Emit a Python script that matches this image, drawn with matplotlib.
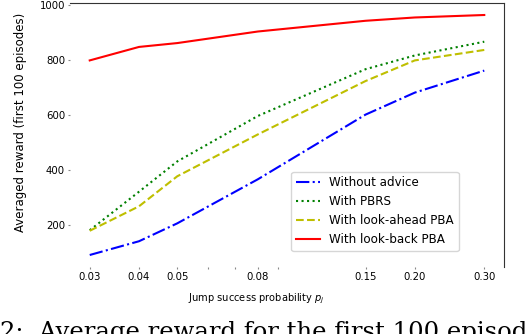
import matplotlib
matplotlib.use('Agg')
import matplotlib.pyplot as plt

# jump success probabilities (x) and averaged rewards over first 100 episodes
probs = [0.03, 0.04, 0.05, 0.08, 0.15, 0.20, 0.30]
prob_labels = ['0.03', '0.04', '0.05', '0.08', '0.15', '0.20', '0.30']

no_advice = [90, 140, 205, 365, 600, 680, 760]
pbrs = [180, 320, 430, 595, 765, 815, 865]
look_ahead = [178, 267, 376, 528, 722, 797, 835]
look_back = [797, 846, 860, 902, 941, 953, 962]

fig = plt.figure(figsize=(5.28, 3.34), dpi=100)
ax = fig.add_axes([70 / 528, 1 - 267 / 334, 434 / 528, 264 / 334])

ax.plot(probs, no_advice, 'b-.', lw=1.5, label='Without advice')
ax.plot(probs, pbrs, 'g:', lw=1.5, label='With PBRS')
ax.plot(probs, look_ahead, 'y--', lw=1.5, label='With look-ahead PBA')
ax.plot(probs, look_back, 'r-', lw=1.5, label='With look-back PBA')

ax.set_xscale('log')
ax.set_xticks(probs)
ax.set_xticklabels(prob_labels)
ax.set_yticks([200, 400, 600, 800, 1000])
ax.tick_params(which='both', length=1.5, width=0.8, color='#888888', labelsize=7.3, pad=2)
ax.tick_params(axis='x', which='minor', labelbottom=False)

for side in ['left', 'bottom']:
    ax.spines[side].set_visible(False)
for side in ['top', 'right']:
    ax.spines[side].set_color('#333333')

ax.set_xlabel('Jump success probability $p_j$', fontsize=7.1)
ax.set_ylabel('Averaged reward (first 100 episodes)', fontsize=8.5)
# labels in the source sit a bit off the axes centre
ax.xaxis.set_label_coords((256 - 70) / 434, -(292 - 267) / 264)
ax.yaxis.set_label_coords(-(70 - 27) / 434, (267 - 122) / 264)

leg = ax.legend(loc='lower right', bbox_to_anchor=(0.896, 0.06), borderaxespad=0,
                fontsize=8.6, handlelength=2.0, frameon=True)
leg.get_frame().set_edgecolor('#cccccc')

# caption of the source figure, cut off at the bottom edge
fig.text(0.0, 1 - 321 / 334, '2:  Average reward for the first 100 episodes',
         fontsize=17.5, family='DejaVu Serif', va='top', ha='left')

fig.savefig('out.png', dpi=100)
